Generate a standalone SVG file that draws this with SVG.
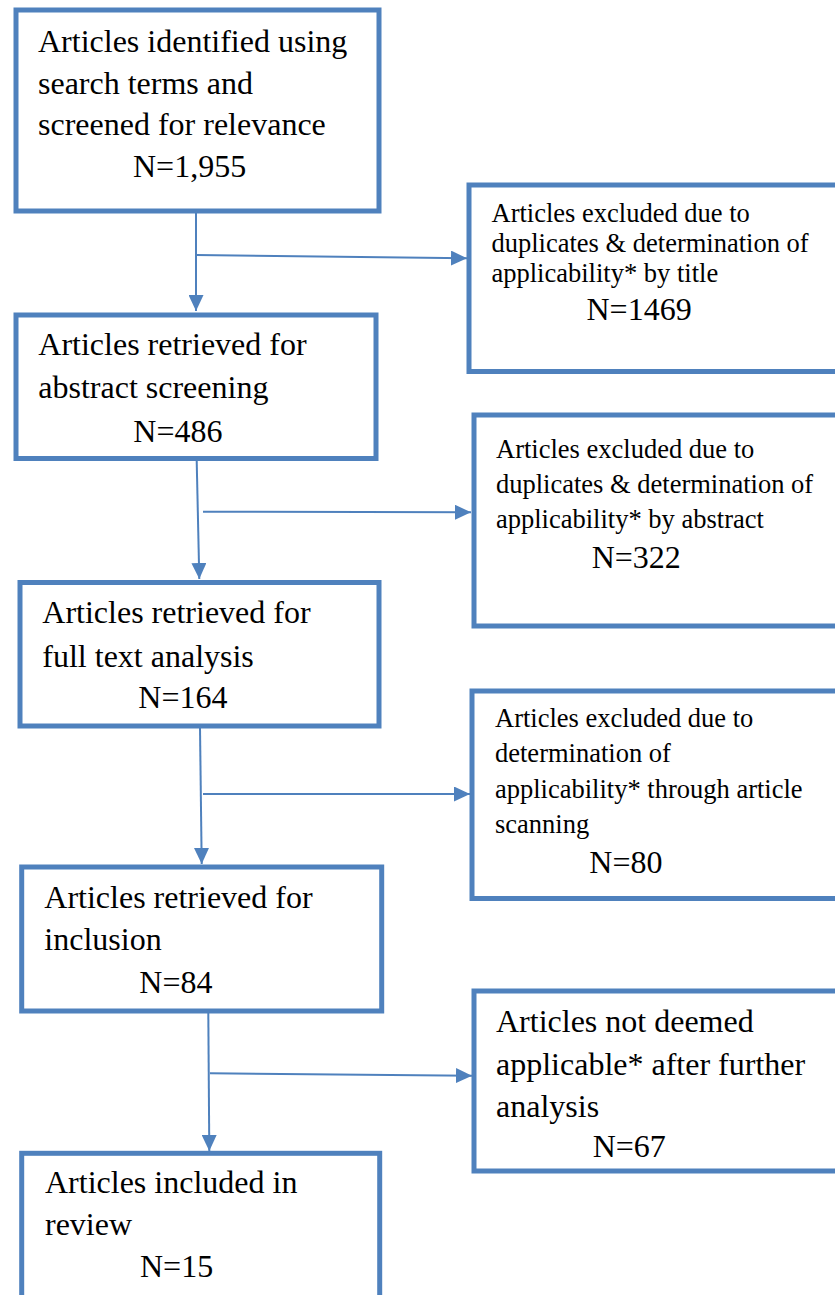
<svg xmlns="http://www.w3.org/2000/svg" width="835" height="1295" viewBox="0 0 835 1295">
<style>
.box{fill:#ffffff;stroke:#4F81BD;stroke-width:5}
.t{font-family:"Liberation Serif","Times New Roman",serif;font-size:32px;fill:#000}
.s{font-family:"Liberation Serif","Times New Roman",serif;font-size:26.5px;fill:#000}
.c{fill:none;stroke:#4F81BD;stroke-width:2}
</style>
<defs>
<marker id="ah" markerUnits="userSpaceOnUse" markerWidth="16" markerHeight="15" refX="16" refY="7.5" orient="auto">
<path d="M0,0 L16,7.5 L0,15 z" fill="#4F81BD"/>
</marker>
</defs>
<rect width="835" height="1295" fill="#ffffff"/>
<g id="connectors">
<line class="c" x1="196" y1="213" x2="196" y2="311" marker-end="url(#ah)"/>
<line class="c" x1="196" y1="255" x2="467" y2="258.3" marker-end="url(#ah)"/>
<line class="c" x1="196.7" y1="461" x2="199.3" y2="579" marker-end="url(#ah)"/>
<line class="c" x1="203" y1="511.7" x2="471" y2="512.3" marker-end="url(#ah)"/>
<line class="c" x1="200" y1="728" x2="201.7" y2="864" marker-end="url(#ah)"/>
<line class="c" x1="203" y1="794" x2="470" y2="794" marker-end="url(#ah)"/>
<line class="c" x1="208.3" y1="1013" x2="209.3" y2="1151" marker-end="url(#ah)"/>
<line class="c" x1="210" y1="1073.3" x2="472" y2="1075.7" marker-end="url(#ah)"/>
</g>
<g id="n1">
<rect class="box" x="16" y="10" width="363" height="201"/>
<text class="t" x="38" y="52">Articles identified using</text>
<text class="t" x="38" y="93.5">search terms and</text>
<text class="t" x="38" y="135">screened for relevance</text>
<text class="t" x="133" y="177">N=1,955</text>
</g>
<g id="n2">
<rect class="box" x="469" y="185" width="380" height="186.5"/>
<text class="s" x="491.5" y="221.7">Articles excluded due to</text>
<text class="s" x="491.5" y="251.7">duplicates &amp; determination of</text>
<text class="s" x="491.5" y="281.7">applicability* by title</text>
<text class="t" x="586.5" y="320">N=1469</text>
</g>
<g id="n3">
<rect class="box" x="16" y="315" width="360" height="143.5"/>
<text class="t" x="38.3" y="355">Articles retrieved for</text>
<text class="t" x="38.3" y="398.3">abstract screening</text>
<text class="t" x="133.3" y="441.7">N=486</text>
</g>
<g id="n4">
<rect class="box" x="474" y="415" width="375" height="211"/>
<text class="s" x="496" y="458.3">Articles excluded due to</text>
<text class="s" x="496" y="492.7">duplicates &amp; determination of</text>
<text class="s" x="496" y="528.3">applicability* by abstract</text>
<text class="t" x="591.7" y="568.3">N=322</text>
</g>
<g id="n5">
<rect class="box" x="20" y="582.5" width="359" height="143.5"/>
<text class="t" x="42.3" y="623.3">Articles retrieved for</text>
<text class="t" x="42.3" y="666.7">full text analysis</text>
<text class="t" x="138.3" y="708.3">N=164</text>
</g>
<g id="n6">
<rect class="box" x="472" y="691" width="377" height="207.5"/>
<text class="s" x="495" y="726.7">Articles excluded due to</text>
<text class="s" x="495" y="761.7">determination of</text>
<text class="s" x="495" y="798.3">applicability* through article</text>
<text class="s" x="495" y="833.3">scanning</text>
<text class="t" x="589.3" y="873.3">N=80</text>
</g>
<g id="n7">
<rect class="box" x="21.7" y="867" width="360" height="144"/>
<text class="t" x="44.3" y="908.3">Articles retrieved for</text>
<text class="t" x="44.3" y="950">inclusion</text>
<text class="t" x="139.3" y="993.3">N=84</text>
</g>
<g id="n8">
<rect class="box" x="474" y="991" width="375" height="180"/>
<text class="t" x="496" y="1031.7">Articles not deemed</text>
<text class="t" x="496" y="1075">applicable* after further</text>
<text class="t" x="496" y="1116.7">analysis</text>
<text class="t" x="592.7" y="1156.7">N=67</text>
</g>
<g id="n9">
<rect class="box" x="21.7" y="1153.3" width="358" height="160"/>
<text class="t" x="45" y="1193.3">Articles included in</text>
<text class="t" x="45" y="1235">review</text>
<text class="t" x="140" y="1276.7">N=15</text>
</g>
</svg>
